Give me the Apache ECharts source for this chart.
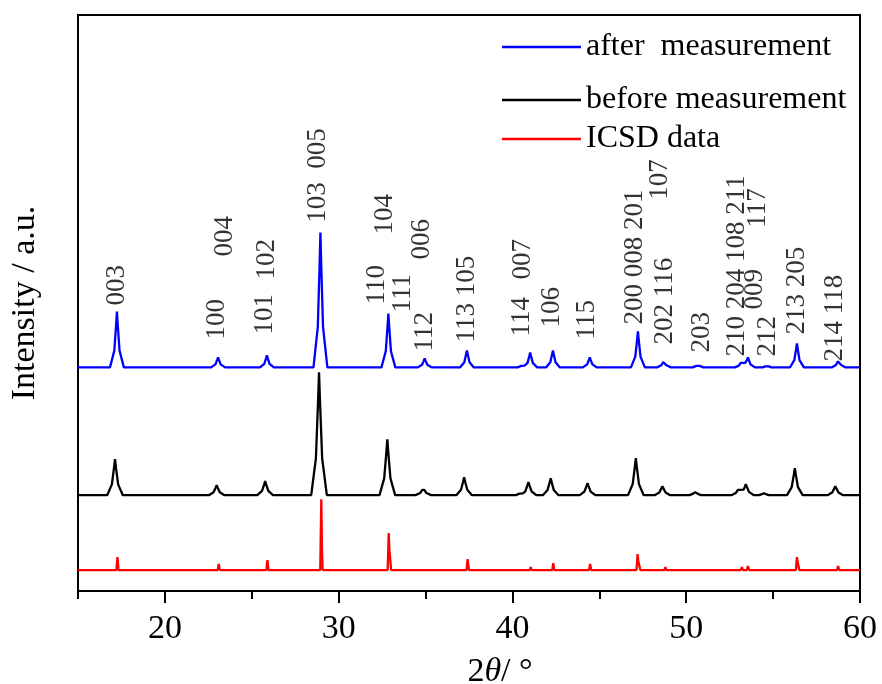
<!DOCTYPE html>
<html>
<head>
<meta charset="utf-8">
<script src="https://cdn.jsdelivr.net/npm/echarts@6/dist/echarts.min.js"></script>
<style>
  html, body { margin: 0; padding: 0; background: #fff; }
  #chart { width: 882px; height: 684px; }
</style>
</head>
<body>
<div id="chart"></div>
<script>
// 2θ range and tick marks
const xMin = 15;
const xMax = 60;
const majorTicks = [20, 30, 40, 50, 60];
const minorTicks = [15, 25, 35, 45, 55];

const seriesNames = ['after  measurement', 'before measurement', 'ICSD data'];
const seriesColors = ['#0000ff', '#000000', '#ff0000'];

// Diffraction patterns: [2θ (°), intensity (a.u.)]
const afterMeasurement = [
  [15, 0], [16.84, 0], [17.09, 16.8], [17.19, 42], [17.24, 56], [17.29, 42], [17.39, 16.8], [17.64, 0],
  [22.66, 0], [22.91, 3], [23.01, 7.5], [23.06, 10], [23.11, 7.5], [23.21, 3], [23.46, 0],
  [25.47, 0], [25.72, 3.6], [25.82, 9], [25.87, 12], [25.92, 9], [26.02, 3.6], [26.27, 0],
  [28.55, 0], [28.8, 40.5], [28.9, 101], [28.95, 135], [29.0, 101], [29.1, 40.5], [29.35, 0],
  [32.46, 0], [32.71, 16.2], [32.81, 40.5], [32.86, 54], [32.91, 40.5], [33.01, 16.2], [33.26, 0],
  [34.55, 0], [34.8, 2.7], [34.9, 6.8], [34.95, 9], [35.0, 6.8], [35.1, 2.7], [35.35, 0],
  [36.98, 0], [37.23, 5.1], [37.33, 12.8], [37.38, 17], [37.43, 12.8], [37.53, 5.1], [37.78, 0],
  [40.3, 0], [40.5, 1.5], [40.6, 3], [40.7, 1.8], [40.8, 2], [40.87, 4.5], [40.97, 11.3], [41.02, 15], [41.07, 11.3], [41.17, 4.5], [41.42, 0],
  [41.93, 0], [42.18, 5.1], [42.28, 12.8], [42.33, 17], [42.38, 12.8], [42.48, 5.1], [42.73, 0],
  [44.05, 0], [44.3, 3], [44.4, 7.5], [44.45, 10], [44.5, 7.5], [44.6, 3], [44.85, 0],
  [46.82, 0], [47.07, 10.8], [47.17, 27], [47.22, 36], [47.27, 27], [47.37, 10.8], [47.62, 0],
  [48.32, 0], [48.57, 2.1], [48.67, 5.3], [48.72, 7], [48.77, 5.3], [48.87, 2.1], [49.12, 0],
  [50.38, 0], [50.58, 1.5], [50.68, 3], [50.78, 1.5], [50.98, 0],
  [52.8, 0], [53.03, 1.8], [53.13, 4.5], [53.18, 6], [53.25, 4.5], [53.32, 4], [53.4, 4.5], [53.5, 7.5], [53.55, 10], [53.6, 7.5], [53.7, 3], [53.95, 0],
  [54.4, 0], [54.55, 1], [54.65, 2], [54.75, 1], [54.9, 0],
  [55.97, 0], [56.22, 7.2], [56.32, 18], [56.37, 24], [56.42, 18], [56.52, 7.2], [56.77, 0],
  [58.37, 0], [58.62, 2.4], [58.72, 6], [58.77, 8], [58.82, 6], [58.92, 2.4], [59.17, 0], [60, 0]
];

const beforeMeasurement = [
  [15, 0], [16.68, 0], [16.95, 10.8], [17.07, 27], [17.13, 36], [17.19, 27], [17.31, 10.8], [17.58, 0],
  [22.53, 0], [22.8, 3], [22.92, 7.5], [22.98, 10], [23.04, 7.5], [23.16, 3], [23.43, 0],
  [25.32, 0], [25.59, 4.2], [25.71, 10.5], [25.77, 14], [25.83, 10.5], [25.95, 4.2], [26.22, 0],
  [28.42, 0], [28.69, 36.9], [28.81, 92], [28.87, 123], [28.93, 92], [29.05, 36.9], [29.32, 0],
  [32.35, 0], [32.62, 16.8], [32.74, 42], [32.8, 56], [32.86, 42], [32.98, 16.8], [33.25, 0],
  [34.42, 0], [34.69, 2.1], [34.81, 5.3], [34.87, 7], [34.93, 5.3], [35.05, 2.1], [35.32, 0],
  [36.77, 0], [37.04, 5.4], [37.16, 13.5], [37.22, 18], [37.28, 13.5], [37.4, 5.4], [37.67, 0],
  [40.2, 0], [40.4, 1.5], [40.5, 3], [40.6, 1.8], [40.7, 2.2], [40.74, 3.9], [40.86, 9.8], [40.92, 13], [40.98, 9.8], [41.1, 3.9], [41.37, 0],
  [41.75, 0], [42.02, 5.1], [42.14, 12.8], [42.2, 17], [42.26, 12.8], [42.38, 5.1], [42.65, 0],
  [43.87, 0], [44.14, 3.6], [44.26, 9], [44.32, 12], [44.38, 9], [44.5, 3.6], [44.77, 0],
  [46.65, 0], [46.92, 11.1], [47.04, 27.8], [47.1, 37], [47.16, 27.8], [47.28, 11.1], [47.55, 0],
  [48.18, 0], [48.45, 2.7], [48.57, 6.8], [48.63, 9], [48.69, 6.8], [48.81, 2.7], [49.08, 0],
  [50.2, 0], [50.4, 1.5], [50.52, 3], [50.64, 1.5], [50.85, 0],
  [52.6, 0], [52.85, 2.1], [52.97, 5.3], [53.03, 7], [53.1, 5.3], [53.2, 4.5], [53.3, 5.5], [53.37, 8.3], [53.43, 11], [53.49, 8.3], [53.61, 3.3], [53.88, 0],
  [54.2, 0], [54.35, 1], [54.47, 2], [54.59, 1], [54.75, 0],
  [55.8, 0], [56.07, 8.1], [56.19, 20.3], [56.25, 27], [56.31, 20.3], [56.43, 8.1], [56.7, 0],
  [58.13, 0], [58.4, 2.7], [58.52, 6.8], [58.58, 9], [58.64, 6.8], [58.76, 2.7], [59.03, 0], [60, 0]
];

const icsdData = [
  [15, 0], [17.21, 0], [17.27, 13], [17.33, 0],
  [23.04, 0], [23.1, 6], [23.16, 0],
  [25.84, 0], [25.9, 10], [25.96, 0],
  [28.94, 0], [29.0, 71], [29.04, 20], [29.08, 0],
  [32.82, 0], [32.88, 37], [32.92, 20], [32.98, 20], [33.02, 0],
  [34.94, 0], [35.0, 2], [35.06, 0],
  [37.36, 0], [37.42, 11], [37.46, 5], [37.5, 0],
  [40.54, 0], [40.6, 1], [40.66, 0],
  [40.99, 0], [41.05, 3], [41.11, 0],
  [42.29, 0], [42.35, 7], [42.41, 0],
  [44.41, 0], [44.47, 6], [44.53, 0],
  [47.14, 0], [47.2, 16], [47.24, 9], [47.32, 9], [47.36, 0],
  [48.74, 0], [48.8, 3], [48.86, 0],
  [50.64, 0], [50.7, 1], [50.76, 0],
  [53.14, 0], [53.2, 3], [53.26, 0],
  [53.49, 0], [53.55, 4], [53.61, 0],
  [54.64, 0], [54.7, 1], [54.76, 0],
  [56.31, 0], [56.37, 13], [56.41, 8], [56.47, 8], [56.51, 0],
  [58.68, 0], [58.74, 4], [58.8, 0], [60, 0]
];

// Miller indices: [text, 2θ, height where the text starts]
const hklLabels = [
  ['003', 17.24, 286],
  ['100', 23.0, 252],
  ['004', 23.46, 335],
  ['101', 25.76, 257],
  ['102', 25.88, 312],
  ['103  005', 28.81, 369],
  ['110', 32.21, 287],
  ['104', 32.67, 357],
  ['111', 33.70, 279],
  ['006', 34.80, 332],
  ['112', 34.97, 240],
  ['113 105', 37.38, 249],
  ['114', 40.55, 255],
  ['007', 40.61, 312],
  ['106', 42.28, 264],
  ['115', 44.29, 252],
  ['200 008 201', 47.05, 267],
  ['107', 48.49, 392],
  ['202 116', 48.78, 247],
  ['203', 50.91, 239],
  ['210 204 108 211', 52.92, 235],
  ['117', 54.13, 364],
  ['009', 53.96, 282],
  ['212', 54.71, 235],
  ['213 205', 56.37, 257],
  ['214 118', 58.56, 230]
];

// Vertical shift applied to each pattern so they stack
const stackOffsets = [224, 96, 21];
const yTop = 577;

const FONT = "'Liberation Serif', 'Times New Roman', serif";
const patterns = [afterMeasurement, beforeMeasurement, icsdData];

const lineSeries = patterns.map((pts, i) => ({
  name: seriesNames[i],
  type: 'line',
  symbol: 'none',
  silent: true,
  z: 3 - i,
  lineStyle: { color: seriesColors[i], width: 2.3 },
  itemStyle: { color: seriesColors[i] },
  data: pts.map(p => [p[0], p[1] + stackOffsets[i]])
}));

const labelSeries = {
  type: 'scatter',
  silent: true,
  symbolSize: 1,
  itemStyle: { color: 'rgba(0,0,0,0)' },
  data: hklLabels.map(l => ({ name: l[0], value: [l[1], l[2]] })),
  label: {
    show: true,
    position: 'inside',
    rotate: 90,
    align: 'left',
    verticalAlign: 'middle',
    formatter: p => p.name,
    fontFamily: FONT,
    fontSize: 27,
    color: '#000'
  }
};

const legendRows = [26, 79, 118];
const legends = seriesNames.map((n, i) => ({
  data: [{ name: n, icon: 'rect', itemStyle: { color: seriesColors[i] } }],
  left: 497,
  top: legendRows[i],
  orient: 'vertical',
  itemWidth: 79,
  itemHeight: 2.3,
  selectedMode: false,
  textStyle: { fontFamily: FONT, fontSize: 32, color: '#000' }
}));

const chart = echarts.init(document.getElementById('chart'), null, { renderer: 'canvas' });
chart.setOption({
  animation: false,
  backgroundColor: '#fff',
  legend: legends,
  grid: {
    left: 78, right: 22, top: 15, bottom: 93,
    outerBoundsMode: 'none',
    containLabel: false,
    show: true, borderColor: '#000', borderWidth: 2, backgroundColor: 'transparent'
  },
  xAxis: [{
    type: 'value',
    min: xMin, max: xMax,
    position: 'bottom',
    axisLine: { show: true, lineStyle: { color: '#000', width: 2 } },
    axisTick: { show: true, customValues: majorTicks, length: 12, lineStyle: { color: '#000', width: 2 } },
    axisLabel: { customValues: majorTicks, fontFamily: FONT, fontSize: 34, color: '#000', margin: 21 },
    splitLine: { show: false },
    name: '2{i|θ}/ °',
    nameLocation: 'middle',
    nameGap: 64,
    nameTextStyle: {
      fontFamily: FONT, fontSize: 34, color: '#000', padding: [0, 0, 0, 62],
      rich: { i: { fontFamily: FONT, fontStyle: 'italic', fontSize: 34, color: '#000' } }
    }
  }, {
    type: 'value',
    min: xMin, max: xMax,
    position: 'bottom',
    axisLine: { show: false },
    axisTick: { show: true, customValues: minorTicks, length: 8, lineStyle: { color: '#000', width: 2 } },
    axisLabel: { show: false },
    splitLine: { show: false }
  }],
  yAxis: {
    type: 'value',
    min: 0, max: yTop,
    axisLine: { show: true, lineStyle: { color: '#000', width: 2 } },
    axisTick: { show: false },
    axisLabel: { show: false },
    splitLine: { show: false },
    name: 'Intensity / a.u.',
    nameLocation: 'middle',
    nameGap: 36,
    nameTextStyle: { fontFamily: FONT, fontSize: 34, color: '#000' }
  },
  series: lineSeries.concat([labelSeries])
});
</script>
</body>
</html>
